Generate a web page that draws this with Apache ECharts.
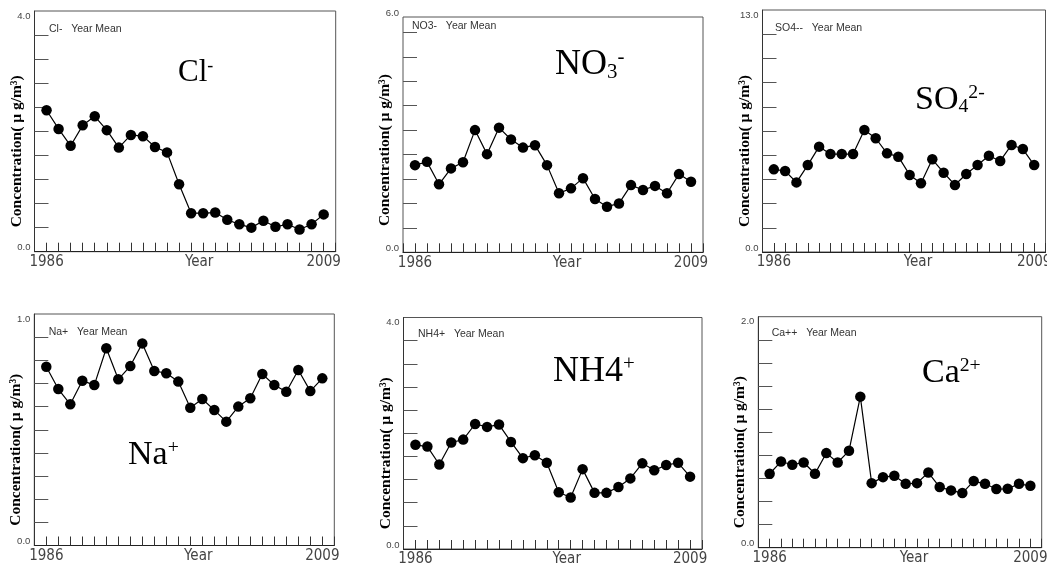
<!DOCTYPE html>
<html lang="en">
<head>
<meta charset="UTF-8">
<title>Year Mean</title>
<script src="https://cdn.jsdelivr.net/npm/echarts@6/dist/echarts.min.js"></script>
<style>
    body { margin: 0; padding: 0; background: #fff; }
    #chart { width: 1047px; height: 566px; }
</style>
</head>
<body>
<div id="chart"></div>
<script>
// x axis: years
var years = [1986, 1987, 1988, 1989, 1990, 1991, 1992, 1993, 1994, 1995, 1996, 1997,
             1998, 1999, 2000, 2001, 2002, 2003, 2004, 2005, 2006, 2007, 2008, 2009];

// year means
var clMean  = [2.35, 2.04, 1.76, 2.10, 2.25, 2.02, 1.73, 1.94, 1.92, 1.74, 1.65, 1.12,
               0.64, 0.64, 0.65, 0.53, 0.455, 0.40, 0.515, 0.415, 0.455, 0.37, 0.455, 0.62];
var no3Mean = [2.14, 2.22, 1.67, 2.06, 2.21, 3.00, 2.41, 3.06, 2.77, 2.57, 2.63, 2.14,
               1.45, 1.57, 1.82, 1.31, 1.12, 1.20, 1.65, 1.53, 1.63, 1.45, 1.92, 1.73];
var so4Mean = [4.44, 4.35, 3.74, 4.67, 5.66, 5.26, 5.26, 5.26, 6.55, 6.11, 5.30, 5.12,
               4.14, 3.69, 4.98, 4.26, 3.60, 4.19, 4.67, 5.17, 4.89, 5.75, 5.53, 4.67];
var naMean  = [0.772, 0.676, 0.610, 0.712, 0.693, 0.852, 0.718, 0.775, 0.873, 0.754, 0.744, 0.708,
               0.595, 0.633, 0.585, 0.535, 0.600, 0.636, 0.741, 0.693, 0.664, 0.758, 0.667, 0.722];
var nh4Mean = [1.80, 1.77, 1.46, 1.84, 1.89, 2.16, 2.11, 2.15, 1.85, 1.57, 1.62, 1.49,
               0.98, 0.89, 1.38, 0.97, 0.97, 1.07, 1.22, 1.48, 1.36, 1.45, 1.49, 1.25];
var caMean  = [0.64, 0.746, 0.718, 0.738, 0.64, 0.819, 0.738, 0.839, 1.308, 0.559, 0.611, 0.623,
               0.553, 0.559, 0.651, 0.525, 0.496, 0.473, 0.577, 0.553, 0.508, 0.510, 0.553, 0.536];

// y axis top of each panel
var yMax = [4.0, 6.0, 13.0, 1.0, 4.0, 2.0];

var legendText = ['Cl-   Year Mean', 'NO3-   Year Mean', 'SO4--   Year Mean',
                  'Na+   Year Mean', 'NH4+   Year Mean', 'Ca++   Year Mean'];
var ionText = ['{m|Cl}{sup|-}', '{m|NO}{sub|3}{sup|-}', '{m|SO}{sub|4}{sup|2-}',
               '{m|Na}{sup|+}', '{m|NH4}{sup|+}', '{m|Ca}{sup|2+}'];

var allMeans = [clMean, no3Mean, so4Mean, naMean, nh4Mean, caMean];

// panel layout (pixels)
var panels = [
    { left: 34.5, top: 11,    width: 301.2, height: 240.7, legend: [49, 29],    ion: [178, 73, 31] },
    { left: 403,  top: 7.9,   width: 300,   height: 244.4, legend: [412, 26],   ion: [555, 65, 36], frameTop: 17 },
    { left: 762.5, top: 10,   width: 283,   height: 242,   legend: [775, 28],   ion: [915, 100, 34] },
    { left: 34.3, top: 314,   width: 300,   height: 231.5, legend: [48.7, 332], ion: [128, 455, 34] },
    { left: 403.5, top: 317.5, width: 298.5, height: 231.5, legend: [418, 334], ion: [553, 372, 36] },
    { left: 758.3, top: 316.7, width: 283.4, height: 231,  legend: [771.7, 333], ion: [922, 373, 34] }
];

var sans = 'Liberation Sans, Arial, sans-serif';
var narrow = 'Liberation Sans Narrow, DejaVu Sans Condensed, Liberation Sans, sans-serif';
var serif = 'Liberation Serif, Times New Roman, serif';

var grids = [], xAxes = [], yAxes = [], series = [], graphics = [];

panels.forEach(function (p, i) {
    var max = yMax[i];
    var step = max / 10;
    var inner = [];
    for (var k = 1; k < 10; k++) inner.push(+(k * step).toFixed(4));

    grids.push({
        left: p.left, top: p.top, width: p.width, height: p.height,
        show: !p.frameTop, borderColor: '#555', borderWidth: 1,
        containLabel: false, outerBoundsMode: 'none'
    });

    xAxes.push({
        type: 'value', gridIndex: i, min: 1985, max: 2010, interval: 1,
        name: 'Year', nameLocation: 'middle', nameGap: 3, nameMoveOverlap: false,
        nameTextStyle: { fontFamily: narrow, fontSize: 15, color: '#444', padding: [0, 0, 0, 28], verticalAlign: 'top' },
        axisLine: { show: true, lineStyle: { color: '#222', width: 1 } },
        axisTick: { show: true, inside: true, length: 9, lineStyle: { color: '#333' } },
        axisLabel: {
            show: true, margin: 3, fontFamily: narrow, fontSize: 15, color: '#444',
            formatter: function (v) { return (v === 1986 || v === 2009) ? String(v) : ''; }
        },
        splitLine: { show: false }
    });

    yAxes.push({
        type: 'value', gridIndex: i, min: 0, max: max, interval: step,
        name: 'Concentration( μ g/m³)', nameLocation: 'middle', nameRotate: 90, nameGap: 10,
        nameMoveOverlap: false,
        nameTextStyle: { fontFamily: serif, fontWeight: 'bold', fontSize: 15.5, color: '#000', padding: [0, 40, 0, 0] },
        axisLine: { show: !p.frameTop, lineStyle: { color: '#333', width: 1 } },
        axisTick: { show: true, inside: true, length: 14, customValues: inner, lineStyle: { color: '#555' } },
        axisLabel: {
            show: true, margin: 4, customValues: [0, max],
            fontFamily: sans, fontSize: 9.5, color: '#444',
            formatter: function (v) {
                return v > 0 ? '{t|' + v.toFixed(1) + '}' : '{b|' + v.toFixed(1) + '}';
            },
            rich: {
                t: { fontFamily: sans, fontSize: 9.5, color: '#444', padding: [10, 0, 0, 0] },
                b: { fontFamily: sans, fontSize: 9.5, color: '#444', padding: [0, 0, 8, 0] }
            }
        },
        splitLine: { show: false }
    });

    series.push({
        type: 'line', xAxisIndex: i, yAxisIndex: i,
        data: years.map(function (y, k) { return [y, allMeans[i][k]]; }),
        symbol: 'circle', symbolSize: 10.5, showSymbol: true,
        itemStyle: { color: '#000' },
        lineStyle: { color: '#000', width: 1.2 },
        animation: false
    });

    if (p.frameTop) {
        graphics.push({
            type: 'rect', silent: true,
            shape: { x: p.left, y: p.frameTop, width: p.width, height: p.top + p.height - p.frameTop },
            style: { fill: 'none', stroke: '#555', lineWidth: 1 }
        });
    }

    graphics.push({
        type: 'text', silent: true, x: p.legend[0], y: p.legend[1],
        style: { text: legendText[i], font: '10.5px ' + sans, fill: '#333', verticalAlign: 'middle' }
    });

    var fs = p.ion[2];
    graphics.push({
        type: 'text', silent: true, x: p.ion[0], y: p.ion[1],
        style: {
            text: ionText[i], verticalAlign: 'middle', fill: '#000',
            rich: {
                m: { fontFamily: serif, fontSize: fs, lineHeight: fs, fill: '#000' },
                sub: { fontFamily: serif, fontSize: fs * 0.58, fill: '#000', verticalAlign: 'bottom' },
                sup: { fontFamily: serif, fontSize: fs * 0.58, fill: '#000', verticalAlign: 'top' }
            }
        }
    });
});

var chart = echarts.init(document.getElementById('chart'));
chart.setOption({
    animation: false,
    grid: grids,
    xAxis: xAxes,
    yAxis: yAxes,
    series: series,
    graphic: graphics
});
</script>
</body>
</html>
